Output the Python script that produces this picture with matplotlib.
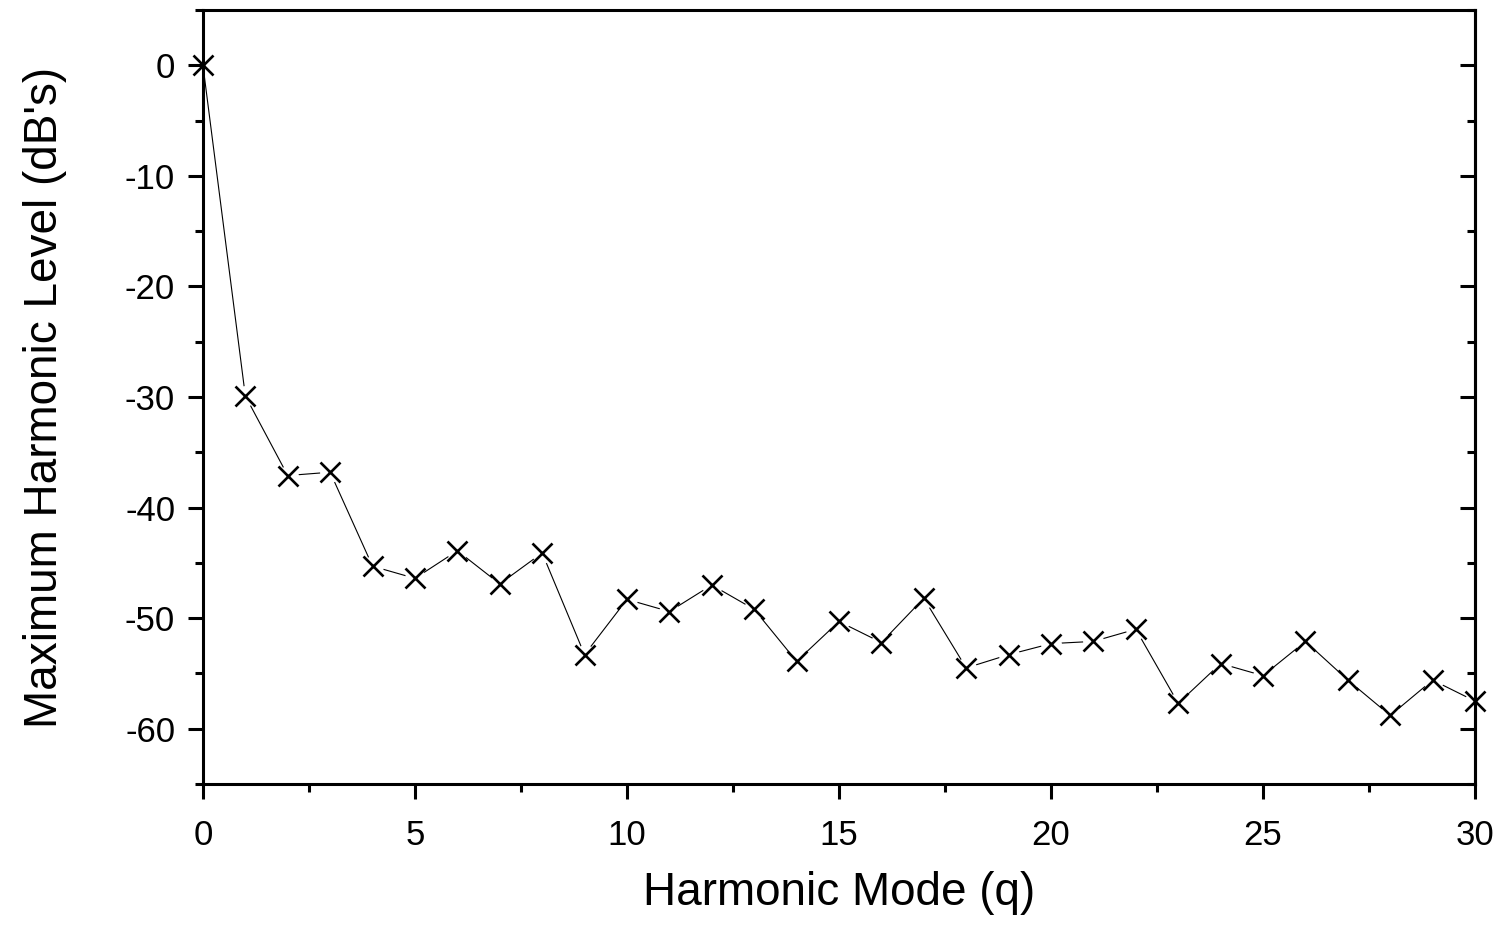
import matplotlib
matplotlib.use("Agg")
import matplotlib.pyplot as plt
from matplotlib.ticker import MultipleLocator

plt.rcParams['font.family'] = ['Liberation Sans', 'DejaVu Sans']
plt.rcParams['axes.unicode_minus'] = False

modes = list(range(31))
levels = [0, -29.9, -37.1, -36.8, -45.3, -46.4, -43.9, -46.9, -44.1, -53.3,
          -48.3, -49.4, -47.0, -49.2, -53.9, -50.3, -52.2, -48.2, -54.5, -53.3,
          -52.3, -52.1, -51.0, -57.7, -54.1, -55.2, -52.1, -55.6, -58.8, -55.6,
          -57.5]

fig = plt.figure(figsize=(15.01, 9.26), dpi=100)
ax = fig.add_axes([0.1352, 0.1533, 0.8475, 0.8359])

ax.plot(modes, levels, color='black', lw=0.8, zorder=2)
# small gaps in the line around each marker
ax.plot(modes, levels, ls='none', marker='o', ms=15, mfc='white', mec='none', zorder=2.1)
ax.plot(modes, levels, ls='none', marker='x', ms=15, mew=1.9, color='black',
        zorder=3, clip_on=False)

ax.set_xlim(0, 30)
ax.set_ylim(-65, 5)
ax.xaxis.set_major_locator(MultipleLocator(5))
ax.xaxis.set_minor_locator(MultipleLocator(2.5))
ax.yaxis.set_major_locator(MultipleLocator(10))
ax.yaxis.set_minor_locator(MultipleLocator(5))

for s in ax.spines.values():
    s.set_linewidth(2.2)

ax.tick_params(which='both', direction='out', width=2.2, labelsize=25,
               top=False, right=False)
ax.tick_params(axis='x', pad=14)
ax.tick_params(axis='y', pad=9)
ax.tick_params(which='major', length=11)
ax.tick_params(which='minor', length=6)

sec = ax.secondary_yaxis('right')
sec.yaxis.set_major_locator(MultipleLocator(10))
sec.yaxis.set_minor_locator(MultipleLocator(5))
sec.tick_params(which='both', direction='in', width=2.2, labelright=False)
sec.tick_params(which='major', length=11)
sec.tick_params(which='minor', length=6)
sec.spines['right'].set_linewidth(2.2)

ax.set_xlabel("Harmonic Mode (q)", fontsize=33, va='center')
ax.set_ylabel("Maximum Harmonic Level (dB's)", fontsize=33, va='center')
ax.xaxis.set_label_coords(0.5, -0.141)
ax.yaxis.set_label_coords(-0.124, 0.5)

fig.savefig('out.png', dpi=100)
